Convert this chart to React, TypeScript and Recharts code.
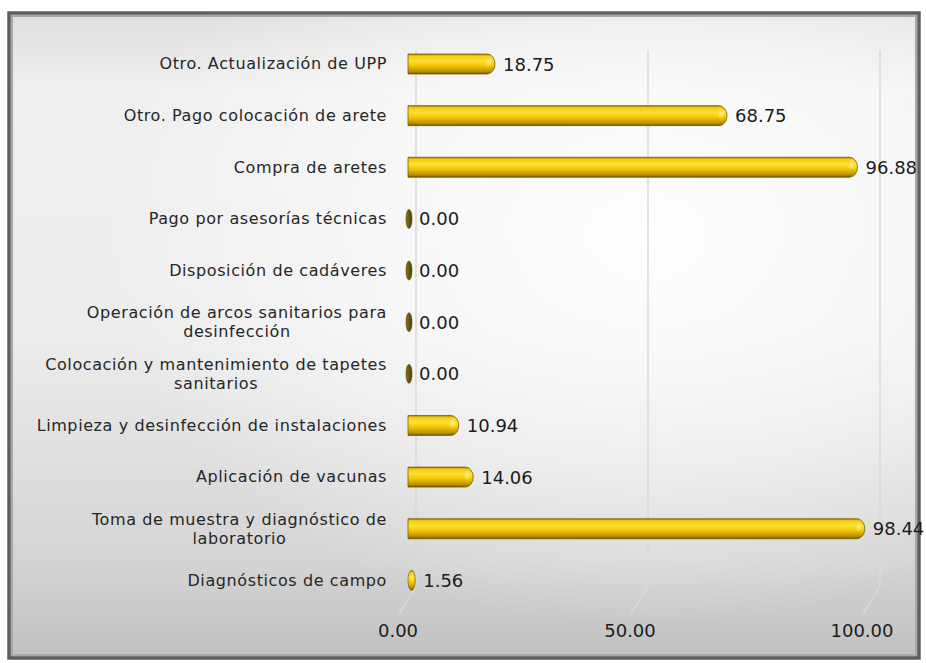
import React from "react";
import { BarChart, Bar, XAxis, YAxis, CartesianGrid, LabelList } from "recharts";

// categories top to bottom ("\n" marks the wrapped labels)
const categories = [
    "Otro. Actualización de UPP",
    "Otro. Pago colocación de arete",
    "Compra de aretes",
    "Pago por asesorías técnicas",
    "Disposición de cadáveres",
    "Operación de arcos sanitarios para\ndesinfección",
    "Colocación y mantenimiento de tapetes\nsanitarios",
    "Limpieza y desinfección de instalaciones",
    "Aplicación de vacunas",
    "Toma de muestra y diagnóstico de\nlaboratorio",
    "Diagnósticos de campo",
];
const values = [18.75, 68.75, 96.88, 0, 0, 0, 0, 10.94, 14.06, 98.44, 1.56];
const xTicks = [0, 50, 100];

const data = categories.map((name, i) => ({ name, value: values[i] }));

const FONT = "'DejaVu Sans', sans-serif";
const CAT_SIZE = 16;
const CAT_SPACING = 0.6;

let ctx: CanvasRenderingContext2D | null = null;
function measure(text: string, size: number) {
    if (!ctx) ctx = document.createElement("canvas").getContext("2d");
    if (!ctx) return text.length * (size * 0.55 + CAT_SPACING);
    ctx.font = `${size}px 'DejaVu Sans'`;
    return ctx.measureText(text).width + text.length * CAT_SPACING;
}

function CategoryTick(props: any) {
    const { x, y, payload } = props;
    const lines: string[] = String(payload.value).split("\n");
    const lh = 19;
    const y0 = y - ((lines.length - 1) * lh) / 2;
    if (lines.length === 1) {
        return (
            <text x={x} y={y} textAnchor="end" dominantBaseline="central" fontFamily={FONT} fontSize={CAT_SIZE} letterSpacing={CAT_SPACING} fill="#262626">
                {lines[0]}
            </text>
        );
    }
    const w = Math.max(...lines.map((l) => measure(l, CAT_SIZE)));
    const cx = x - w / 2;
    return (
        <text textAnchor="middle" fontFamily={FONT} fontSize={CAT_SIZE} letterSpacing={CAT_SPACING} fill="#262626">
            {lines.map((l, i) => (
                <tspan key={i} x={cx} y={y0 + i * lh} dominantBaseline="central">
                    {l}
                </tspan>
            ))}
        </text>
    );
}

// gold cylinder with rounded right end
function GoldBar(props: any) {
    const { x, y, width, height } = props;
    const h = height;
    const cy = y + h / 2;
    if (width < 1) {
        return <ellipse cx={x + 1} cy={cy} rx={3} ry={h / 2 - 0.5} fill="url(#zeroGrad)" stroke="#4a3c08" strokeWidth={0.6} />;
    }
    if (width < 12) {
        const rx = Math.max(width / 2, 3.5);
        return (
            <g>
                <ellipse cx={x + rx} cy={cy} rx={rx} ry={h / 2} fill="url(#goldGrad)" stroke="#7a6000" strokeWidth={0.7} />
                <ellipse cx={x + rx * 1.1} cy={cy - h * 0.12} rx={rx * 0.5} ry={h * 0.25} fill="url(#hiGrad)" />
            </g>
        );
    }
    const r = 8;
    const xe = x + width;
    const d = `M${x},${y} L${xe - r},${y} A${r},${h / 2} 0 0 1 ${xe - r},${y + h} L${x},${y + h} Z`;
    return (
        <g>
            <path d={d} fill="url(#goldGrad)" stroke="#7a6000" strokeWidth={0.8} />
            <ellipse cx={xe - 6} cy={cy - h * 0.1} rx={4.5} ry={h * 0.3} fill="url(#hiGrad)" />
        </g>
    );
}

function ValueLabel(props: any) {
    const { x, y, width, height, value } = props;
    return (
        <text x={x + Math.max(width, 3) + 8} y={y + height / 2} dominantBaseline="central" fontFamily={FONT} fontSize={18} fill="#1c1c1c">
            {Number(value).toFixed(2)}
        </text>
    );
}

function GridLine(p: any) {
    const { x1, y1, y2 } = p;
    const d = `M${x1 + 8},${y1 + 12} L${x1 + 8},${y2 - 20} L${x1 - 9},${y2 + 8}`;
    return <path key={p.key} d={d} fill="none" stroke="#d9d9d9" strokeWidth={1.5} />;
}

export default function App() {
    return (
        <div style={{ position: "absolute", left: 0, top: 0, width: 926, height: 663, background: "#fff" }}>
            <svg width={926} height={663} style={{ position: "absolute", left: 0, top: 0 }}>
                <defs>
                    <linearGradient id="bgBase" x1="0" y1="0" x2="0" y2="1">
                        <stop offset="0" stopColor="#dedede" />
                        <stop offset="0.12" stopColor="#efefef" />
                        <stop offset="0.5" stopColor="#ececec" />
                        <stop offset="0.85" stopColor="#d4d4d4" />
                        <stop offset="1" stopColor="#c0c0c0" />
                    </linearGradient>
                    <radialGradient id="bgGlow" cx="0.7" cy="0.35" r="0.6">
                        <stop offset="0" stopColor="#ffffff" stopOpacity={0.95} />
                        <stop offset="0.6" stopColor="#ffffff" stopOpacity={0.45} />
                        <stop offset="1" stopColor="#ffffff" stopOpacity={0} />
                    </radialGradient>
                    <linearGradient id="goldGrad" x1="0" y1="0" x2="0" y2="1">
                        <stop offset="0" stopColor="#9a7a00" />
                        <stop offset="0.1" stopColor="#f5cc10" />
                        <stop offset="0.35" stopColor="#ffe033" />
                        <stop offset="0.6" stopColor="#f2c300" />
                        <stop offset="0.88" stopColor="#b98e00" />
                        <stop offset="1" stopColor="#6e5600" />
                    </linearGradient>
                    <radialGradient id="hiGrad">
                        <stop offset="0" stopColor="#fff6a8" stopOpacity={0.95} />
                        <stop offset="1" stopColor="#ffe033" stopOpacity={0} />
                    </radialGradient>
                    <linearGradient id="zeroGrad" x1="0" y1="0" x2="1" y2="0">
                        <stop offset="0" stopColor="#8a7218" />
                        <stop offset="1" stopColor="#4d3f0a" />
                    </linearGradient>
                </defs>
                <rect x={9} y={13} width={910} height={645} fill="url(#bgBase)" />
                <rect x={9} y={13} width={910} height={645} fill="url(#bgGlow)" />
                <rect x={9} y={13} width={910} height={645} fill="none" stroke="#5e5e5e" strokeWidth={3.5} />
                <rect x={12} y={16} width={904} height={639} fill="none" stroke="#a8a8a8" strokeWidth={2} />
            </svg>
            <div style={{ position: "absolute", left: 0, top: 0 }}>
                <BarChart
                    width={926}
                    height={663}
                    data={data}
                    layout="vertical"
                    margin={{ top: 38, right: 54, bottom: 27, left: 0 }}
                    barCategoryGap={0}
                >
                    <CartesianGrid horizontal={false} vertical={GridLine as any} />
                    <XAxis
                        type="number"
                        domain={[0, 100]}
                        ticks={xTicks}
                        tickFormatter={(v: number) => v.toFixed(2)}
                        axisLine={false}
                        tickLine={false}
                        tickSize={0}
                        tickMargin={18}
                        height={30}
                        dx={-10}
                        tick={{ fontFamily: FONT, fontSize: 18, fill: "#1c1c1c" }}
                    />
                    <YAxis
                        type="category"
                        dataKey="name"
                        width={408}
                        axisLine={false}
                        tickLine={false}
                        tickSize={0}
                        tickMargin={21}
                        interval={0}
                        tick={<CategoryTick />}
                    />
                    <Bar dataKey="value" barSize={20} shape={<GoldBar />} isAnimationActive={false}>
                        <LabelList dataKey="value" content={<ValueLabel />} />
                    </Bar>
                </BarChart>
            </div>
        </div>
    );
}
